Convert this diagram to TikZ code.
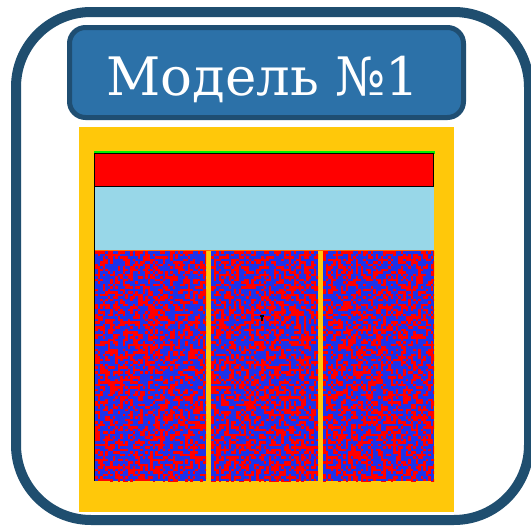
\documentclass[tikz,border=0pt]{standalone}
\usepackage{fontspec}
\newfontfamily\titlefont{DejaVu Serif}
\definecolor{frameblue}{HTML}{1F4E6F}
\definecolor{titlefill}{HTML}{2C71A8}
\definecolor{titleedge}{HTML}{1F4E72}
\definecolor{panelyellow}{HTML}{FFC80A}
\definecolor{skyband}{HTML}{98D7E8}
\definecolor{noiseblue}{HTML}{1E32E8}
\definecolor{noisered}{HTML}{FF0000}
\definecolor{topgreen}{HTML}{00EE00}
\tikzset{
  outerframe/.style={draw=frameblue, line width=10pt, rounded corners=75pt},
  titlebox/.style={draw=titleedge, fill=titlefill, line width=5pt, rounded corners=16pt},
  titletext/.style={text=white, font=\titlefont\fontsize{53}{60}\selectfont, inner sep=0pt, anchor=base}
}
\begin{document}
\begin{tikzpicture}[x=1pt, y=-1pt]
  \useasboundingbox (0,0) rectangle (531,530);
  \fill[white] (0,0) rectangle (531,530);

  % outer rounded frame
  \draw[outerframe] (16,12) rectangle (529,520);

  % title plate
  \draw[titlebox] (69.5,27.5) rectangle (463.5,117.5);
  \node[titletext] (title) at (263,95) {Модель №1};

  % yellow panel
  \fill[panelyellow] (79,127) rectangle (454,512);

  % top stripes
  \fill[topgreen] (94,151) rectangle (435,153.5);
  \fill[noisered] (94,153.5) rectangle (434,187);
  \draw[black, line width=1pt] (94.5,153.5) rectangle (433.5,186.5);
  \fill[skyband] (94,187) rectangle (434,250);
  \fill[orange!80!red] (94,250) rectangle (434,251);

  % noisy columns
  \pgfmathsetseed{1234}
  \foreach \xa/\xb in {95/206, 211/318, 323/434} {
    \begin{scope}
      \clip (\xa,251) rectangle (\xb,481);
      \fill[noiseblue] (\xa,251) rectangle (\xb,481);
      \foreach \i in {0,...,44} {
        \foreach \j in {0,...,92} {
          \pgfmathrandominteger{\r}{0}{99}
          \ifnum\r<45
            \fill[noisered] (\xa+2.5*\i,251+2.5*\j) rectangle ++(2.5,2.5);
          \fi
        }
      }
    \end{scope}
  }
  \draw[black, line width=1pt] (94.5,153) -- (94.5,481);

  % small dark mark in the middle column
  \fill[black] (260,315) rectangle (264,317);
  \fill[black] (261.3,317) rectangle (262.7,321);
\end{tikzpicture}
\end{document}
